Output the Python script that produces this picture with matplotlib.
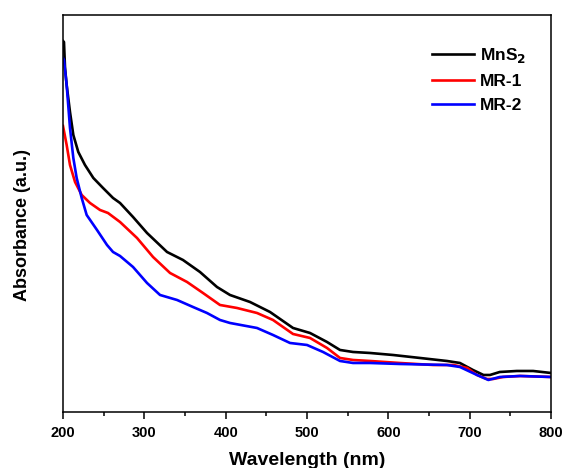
import matplotlib
matplotlib.use("Agg")
import matplotlib.pyplot as plt
from matplotlib.ticker import MultipleLocator

plt.rcParams['font.family'] = ['Liberation Sans', 'DejaVu Sans']
plt.rcParams['font.weight'] = 'bold'
plt.rcParams['mathtext.default'] = 'bf'

# ---- data (absorbance in arbitrary units) ----
wl_mns2 = [200, 201.2, 202.5, 204.5, 208.6, 212.7, 218.8, 227, 237.3, 249.2, 261.5,
           270.1, 286.1, 303.3, 327.9, 347.5, 368.4, 389.3, 405.3, 429.9, 454.5,
           482.8, 503.7, 524.6, 540.6, 556.6, 577.5, 605.7, 639, 672, 688, 704,
           717, 725, 737, 758, 778, 800]
abs_mns2 = [3.71, 3.70, 3.44, 3.27, 3.00, 2.77, 2.60, 2.47, 2.34, 2.24, 2.14,
            2.09, 1.95, 1.79, 1.60, 1.52, 1.40, 1.25, 1.17, 1.10, 1.00,
            0.84, 0.79, 0.70, 0.62, 0.60, 0.59, 0.57, 0.54, 0.51, 0.49, 0.42,
            0.37, 0.37, 0.40, 0.41, 0.41, 0.39]

wl_mr1 = [200, 204.5, 208.6, 214.8, 223, 233.2, 245.5, 255.3, 270.1, 291, 310.7,
          331.6, 352.5, 372.1, 393, 413.9, 438.5, 458.2, 482.8, 503.7, 524.6,
          540.6, 556.6, 577.5, 614, 655, 680, 697, 709, 721, 729, 741, 762, 800]
abs_mr1 = [2.86, 2.67, 2.47, 2.30, 2.17, 2.09, 2.02, 1.99, 1.90, 1.74, 1.55,
           1.39, 1.30, 1.19, 1.07, 1.04, 0.99, 0.92, 0.78, 0.74, 0.64,
           0.54, 0.52, 0.51, 0.49, 0.47, 0.47, 0.44, 0.37, 0.33, 0.33, 0.35, 0.36, 0.35]

wl_mr2 = [200, 201.2, 204.5, 208.6, 212.7, 216.8, 223, 229.1, 241.8, 254.1, 261.5,
          270.1, 286.1, 303.3, 319.3, 340.2, 359.8, 377, 393, 405.3, 438.5, 458.2,
          479.1, 500, 519.7, 540.6, 556.6, 577.5, 614, 672, 688, 709, 723, 737, 762, 800]
abs_mr2 = [3.54, 3.52, 3.27, 2.84, 2.54, 2.34, 2.14, 1.97, 1.82, 1.67, 1.60,
           1.56, 1.45, 1.29, 1.17, 1.12, 1.05, 0.99, 0.92, 0.89, 0.84, 0.77,
           0.69, 0.67, 0.60, 0.51, 0.49, 0.49, 0.48, 0.47, 0.45, 0.37, 0.32, 0.35, 0.36, 0.35]

labels = ['MnS$_2$', 'MR-1', 'MR-2']
colors = ['black', 'red', 'blue']

fig = plt.figure(figsize=(5.63, 4.68), dpi=100)
ax = fig.add_axes([0.1119, 0.1197, 0.8668, 0.8483])

series = [(wl_mns2, abs_mns2), (wl_mr1, abs_mr1), (wl_mr2, abs_mr2)]
for (x, y), lab, c in zip(series, labels, colors):
    ax.plot(x, y, color=c, lw=1.9, label=lab, solid_joinstyle='round')

ax.set_xlim(200, 800)
ax.set_ylim(0, 3.97)
ax.xaxis.set_major_locator(MultipleLocator(100))
ax.xaxis.set_minor_locator(MultipleLocator(50))
ax.set_yticks([])
ax.tick_params(axis='x', which='major', direction='out', length=5, width=1.1, labelsize=10.5, pad=5)
ax.tick_params(axis='x', which='minor', direction='out', length=3, width=1.1)
for lbl in ax.get_xticklabels():
    lbl.set_fontweight('bold')
for sp in ax.spines.values():
    sp.set_linewidth(1.1)

ax.set_xlabel('Wavelength (nm)', fontsize=14, fontweight='bold', labelpad=9)
ax.set_ylabel('Absorbance (a.u.)', fontsize=13, fontweight='bold')
ax.yaxis.set_label_coords(-0.066, 0.47)

leg = ax.legend(loc='upper left', bbox_to_anchor=(0.756, 0.922), frameon=False,
                prop={'weight': 'bold', 'size': 12.5}, handlelength=2.4,
                labelspacing=0.5, handletextpad=0.35, borderpad=0, borderaxespad=0)

fig.savefig('out.png', dpi=100)
